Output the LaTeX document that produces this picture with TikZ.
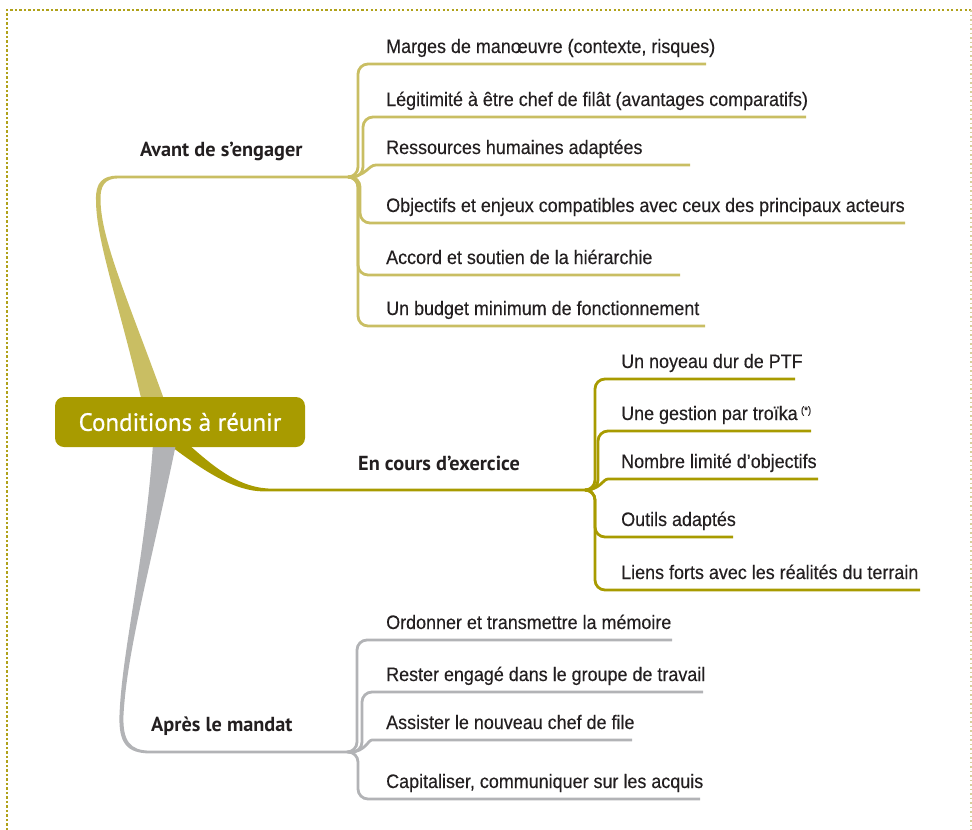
\documentclass[tikz,border=0pt]{standalone}
\usepackage{fontspec}
\setmainfont{Liberation Sans}
\newfontfamily\leaffont[FakeStretch=0.92, FakeBold=0.3]{Liberation Sans}
\newfontfamily\headfont{PT Sans}
\newfontfamily\rootfont[FakeBold=0.7]{PT Sans}

\definecolor{olivedark}{HTML}{A89B00}
\definecolor{olivelight}{HTML}{C9BE63}
\definecolor{branchgrey}{HTML}{B2B3B6}
\definecolor{inkdark}{HTML}{231F20}
\definecolor{dotolive}{HTML}{B0A21A}
\definecolor{dotfaint}{HTML}{D6CF9A}

\tikzset{
  leaf/.style={anchor=base west, inner sep=0pt, text=inkdark,
    font=\leaffont\fontsize{19.5}{21}\selectfont},
  branchlabel/.style={anchor=base west, inner sep=0pt, text=inkdark,
    font=\headfont\bfseries\fontsize{20.3}{22}\selectfont},
  rootbox/.style={fill=olivedark, rounded corners=9pt, minimum width=250pt,
    minimum height=50pt, inner sep=0pt, text=white,
    font=\rootfont\fontsize{25}{27}\selectfont},
  twig/.style={line width=2.8pt, rounded corners=10pt},
  borderdots/.style={dotolive, line width=2.4pt, dash pattern=on 2.2pt off 2.3pt},
  borderfaint/.style={dotfaint, line width=1.2pt, dash pattern=on 1.5pt off 3pt},
}

\begin{document}
\begin{tikzpicture}[x=1pt, y=-1pt]
\useasboundingbox (0,0) rectangle (972,830);

% dotted frame
\draw[borderdots] (7,830) -- (7,10) -- (971,10);
\draw[borderfaint] (971,10) -- (971,830);

% junction points of the three branches
\coordinate (j1) at (348,177);
\coordinate (j2) at (585,490);
\coordinate (j3) at (350,752);

% tapered main branches
\fill[olivelight] (142,402) .. controls (118,300) and (96,240) .. (96,200)
  .. controls (95.5,183) and (102,175.6) .. (118,175.6) -- (j1 |- 0,175.6)
  -- (j1 |- 0,178.4) -- (118,178.4)
  .. controls (105,178.4) and (100,186) .. (100.5,200)
  .. controls (101,240) and (128,300) .. (165,402) -- cycle;

\fill[olivedark] (188,444) .. controls (215,468) and (240,488.6) .. (272,488.6)
  -- (j2 |- 0,488.6) -- (j2 |- 0,491.4) -- (264,491.4)
  .. controls (235,491.4) and (205,472) .. (168,444) -- cycle;

\fill[branchgrey] (153,444) .. controls (145,560) and (122,650) .. (119.5,715)
  .. controls (118.5,742) and (126,753.4) .. (150,753.4) -- (j3 |- 0,753.4)
  -- (j3 |- 0,750.6) -- (150,750.6)
  .. controls (130,750.6) and (122.5,741) .. (123.5,715)
  .. controls (127,650) and (152,560) .. (176,444) -- cycle;

% underline ends
\coordinate (a1e) at (706,64);
\coordinate (a2e) at (806,117);
\coordinate (a3e) at (690,165);
\coordinate (a4e) at (905,223);
\coordinate (a5e) at (680,275);
\coordinate (a6e) at (705,326);
\coordinate (b1e) at (795,379);
\coordinate (b2e) at (811,431);
\coordinate (b3e) at (818,479);
\coordinate (b4e) at (733,537);
\coordinate (b5e) at (920,590);
\coordinate (c1e) at (672,640);
\coordinate (c2e) at (703,692);
\coordinate (c3e) at (632,740);
\coordinate (c4e) at (700,799);

% twigs of the first branch
\begin{scope}[twig, olivelight]
  \draw (j1) -| (358,64) -- (a1e);
  \draw (j1) -| (363,117) -- (a2e);
  \draw (j1) .. controls (366,177) and (368,165) .. (386,165) -- (a3e);
  \draw (j1) -| (360,223) -- (a4e);
  \draw (j1) -| (358,275) -- (a5e);
  \draw (j1) -| (358,326) -- (a6e);
\end{scope}

% twigs of the second branch
\begin{scope}[twig, olivedark]
  \draw (j2) -| (595,379) -- (b1e);
  \draw (j2) -| (598,431) -- (b2e);
  \draw (j2) .. controls (600,490) and (603,479) .. (618,479) -- (b3e);
  \draw (j2) -| (595,537) -- (b4e);
  \draw (j2) -| (595,590) -- (b5e);
\end{scope}

% twigs of the third branch
\begin{scope}[twig, branchgrey]
  \draw (j3) -| (357,640) -- (c1e);
  \draw (j3) -| (362,692) -- (c2e);
  \draw (j3) .. controls (365,752) and (368,740) .. (382,740) -- (c3e);
  \draw (j3) -| (358,799) -- (c4e);
\end{scope}

% central node
\node[rootbox] (root) at (180,422) {Conditions à réunir};

% branch labels
\node[branchlabel] (avant) at (140,156) {Avant de s’engager};
\node[branchlabel] (encours) at (358,470) {En cours d’exercice};
\node[branchlabel] (apres) at (151,731) {Après le mandat};

% leaves
\node[leaf] (a1) at (386,53) {Marges de manœuvre (contexte, risques)};
\node[leaf] (a2) at (386,106) {Légitimité à être chef de filât (avantages comparatifs)};
\node[leaf] (a3) at (386,154) {Ressources humaines adaptées};
\node[leaf] (a4) at (386,212) {Objectifs et enjeux compatibles avec ceux des principaux acteurs};
\node[leaf] (a5) at (386,264) {Accord et soutien de la hiérarchie};
\node[leaf] (a6) at (386,315) {Un budget minimum de fonctionnement};

\node[leaf] (b1) at (621,368) {Un noyeau dur de PTF};
\node[leaf] (b2) at (621,420) {Une gestion par troïka\,\raisebox{0.32em}{\fontsize{10.5}{11}\selectfont(*)}};
\node[leaf] (b3) at (621,468) {Nombre limité d’objectifs};
\node[leaf] (b4) at (621,526) {Outils adaptés};
\node[leaf] (b5) at (621,579) {Liens forts avec les réalités du terrain};

\node[leaf] (c1) at (386,629) {Ordonner et transmettre la mémoire};
\node[leaf] (c2) at (386,681) {Rester engagé dans le groupe de travail};
\node[leaf] (c3) at (386,729) {Assister le nouveau chef de file};
\node[leaf] (c4) at (386,788) {Capitaliser, communiquer sur les acquis};
\end{tikzpicture}
\end{document}
